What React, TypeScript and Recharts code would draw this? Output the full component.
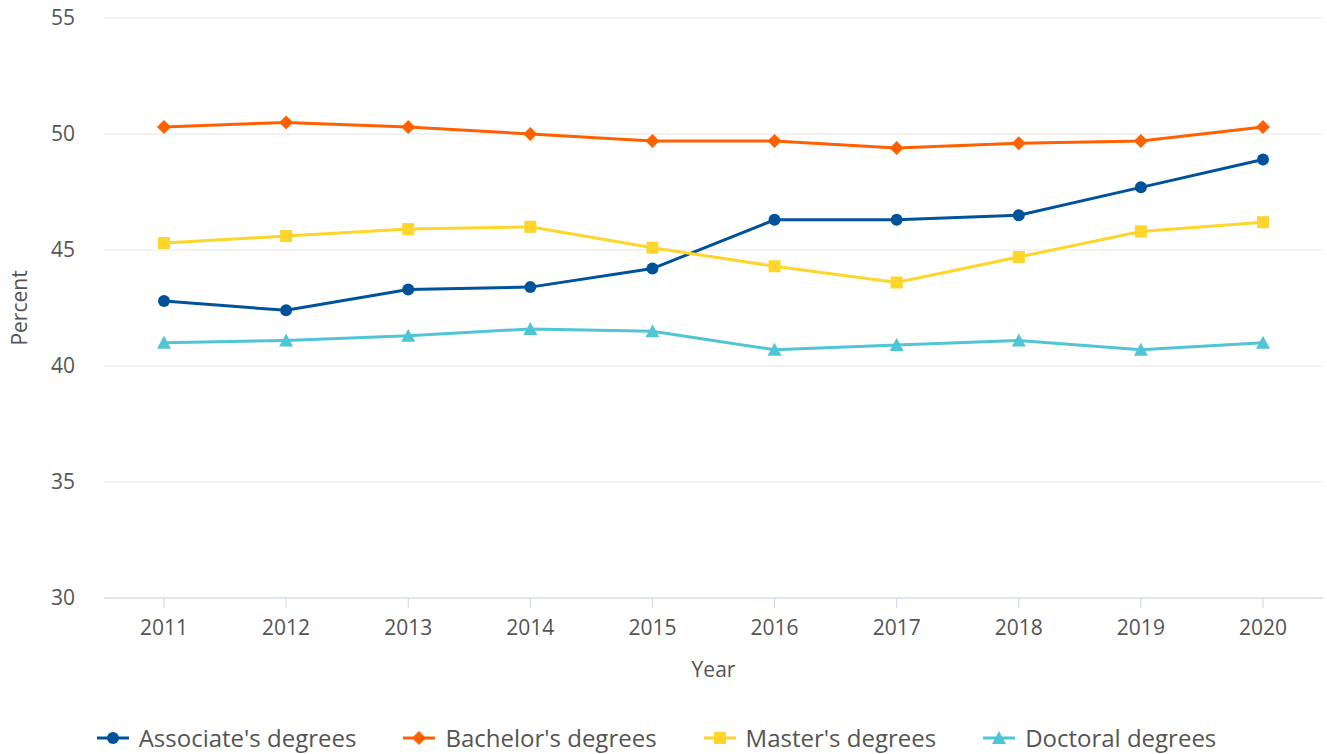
import React from 'react';
import { LineChart, Line, XAxis, YAxis, CartesianGrid, Legend } from 'recharts';

const years = ['2011', '2012', '2013', '2014', '2015', '2016', '2017', '2018', '2019', '2020'];
const associates = [42.8, 42.4, 43.3, 43.4, 44.2, 46.3, 46.3, 46.5, 47.7, 48.9];
const bachelors = [50.3, 50.5, 50.3, 50.0, 49.7, 49.7, 49.4, 49.6, 49.7, 50.3];
const masters = [45.3, 45.6, 45.9, 46.0, 45.1, 44.3, 43.6, 44.7, 45.8, 46.2];
const doctoral = [41.0, 41.1, 41.3, 41.6, 41.5, 40.7, 40.9, 41.1, 40.7, 41.0];
const yTicks = [30, 35, 40, 45, 50, 55];

const series = [
  { key: 'associates', name: "Associate's degrees", color: '#00529b', shape: 'circle' },
  { key: 'bachelors', name: "Bachelor's degrees", color: '#ff6000', shape: 'diamond' },
  { key: 'masters', name: "Master's degrees", color: '#fdd52b', shape: 'square' },
  { key: 'doctoral', name: 'Doctoral degrees', color: '#4fc5d6', shape: 'triangle' },
];

const data = years.map((y, i) => ({
  year: y,
  associates: associates[i],
  bachelors: bachelors[i],
  masters: masters[i],
  doctoral: doctoral[i],
}));

const FONT = '"Open Sans", sans-serif';
const TEXT = '#555555';

function Marker({ cx, cy, shape, color }: { cx: number; cy: number; shape: string; color: string }) {
  if (cx == null || cy == null) return null;
  if (shape === 'circle') return <circle cx={cx} cy={cy} r={6} fill={color} />;
  if (shape === 'diamond')
    return <path d={`M${cx},${cy - 7} L${cx + 7},${cy} L${cx},${cy + 7} L${cx - 7},${cy} Z`} fill={color} />;
  if (shape === 'square') return <rect x={cx - 6} y={cy - 6} width={12} height={12} fill={color} />;
  return <path d={`M${cx},${cy - 7} L${cx + 7},${cy + 6} L${cx - 7},${cy + 6} Z`} fill={color} />;
}

function LegendContent() {
  return (
    <div
      style={{
        display: 'flex',
        justifyContent: 'center',
        gap: 47,
        fontFamily: FONT,
        fontSize: 24,
        lineHeight: '32px',
        color: TEXT,
        paddingRight: 10,
      }}
    >
      {series.map((s) => (
        <div key={s.key} style={{ display: 'flex', alignItems: 'center' }}>
          <svg width={32} height={20} style={{ marginRight: 10 }}>
            <line x1={0} y1={10} x2={32} y2={10} stroke={s.color} strokeWidth={3} />
            <Marker cx={16} cy={10} shape={s.shape} color={s.color} />
          </svg>
          <span>{s.name}</span>
        </div>
      ))}
    </div>
  );
}

export default function App() {
  return (
    <div style={{ position: 'absolute', left: 0, top: 0, background: '#fff' }}>
      <LineChart width={1327} height={754} data={data} margin={{ top: 18, right: 4, bottom: 0, left: 0 }}>
        <CartesianGrid horizontal vertical={false} stroke="#e6e6e6" strokeWidth={1} />
        <XAxis
          dataKey="year"
          padding={{ left: 60, right: 60 }}
          tickLine={{ stroke: '#ccd6eb' }}
          axisLine={{ stroke: '#ccd6eb' }}
          tickSize={10}
          tickMargin={12}
          height={124}
          tick={{ fill: TEXT, fontSize: 21, fontFamily: FONT }}
          label={{ value: 'Year', position: 'insideTop', offset: 64, fill: TEXT, fontSize: 21, fontFamily: FONT }}
        />
        <YAxis
          domain={[30, 55]}
          ticks={yTicks}
          width={104}
          axisLine={false}
          tickLine={false}
          tickMargin={23}
          tick={{ fill: TEXT, fontSize: 21, fontFamily: FONT }}
          label={{
            value: 'Percent',
            angle: -90,
            position: 'insideLeft',
            offset: 20,
            style: { textAnchor: 'middle' },
            fill: TEXT,
            fontSize: 21,
            fontFamily: FONT,
          }}
        />
        <Legend verticalAlign="bottom" height={32} content={() => <LegendContent />} />
        {series.map((s) => (
          <Line
            key={s.key}
            dataKey={s.key}
            name={s.name}
            stroke={s.color}
            strokeWidth={3}
            isAnimationActive={false}
            dot={(p: any) => <Marker key={`${s.key}-${p.index}`} cx={p.cx} cy={p.cy} shape={s.shape} color={s.color} />}
            activeDot={false}
          />
        ))}
      </LineChart>
    </div>
  );
}
